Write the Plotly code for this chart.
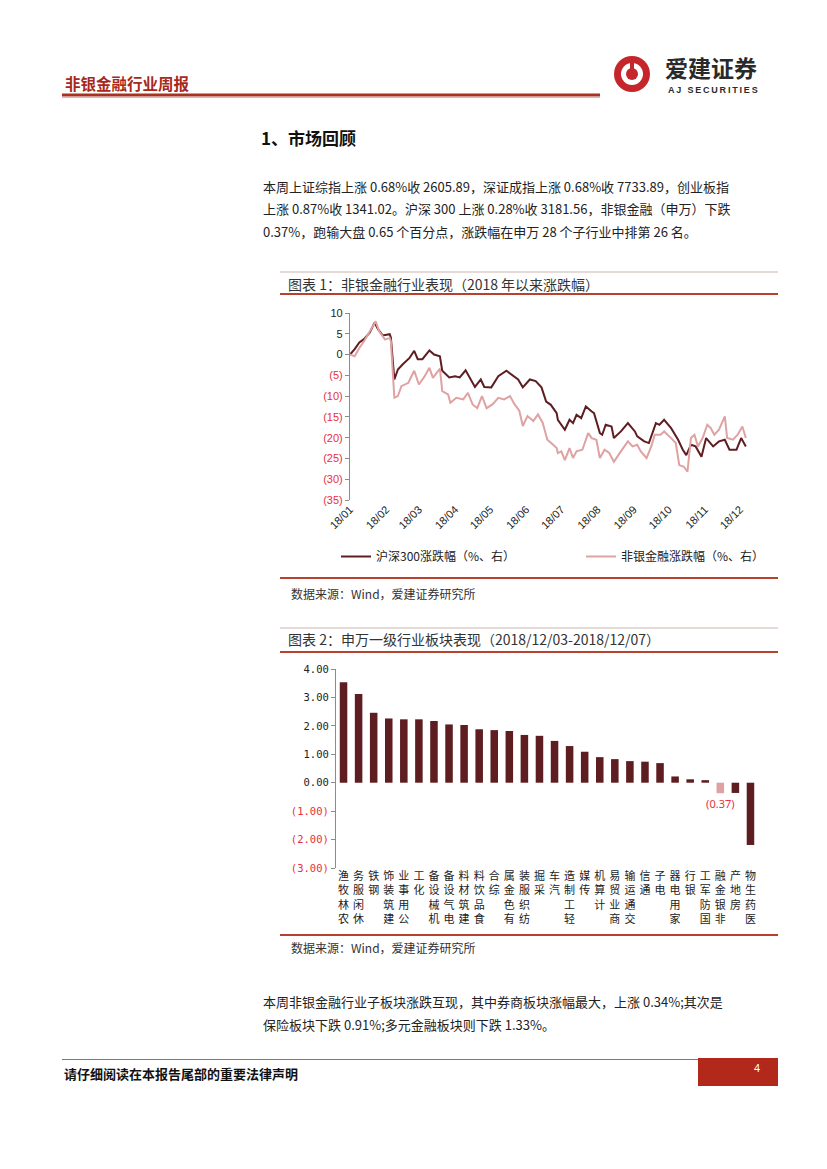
import plotly.graph_objects as go

# page offset of the browser body (8px) is compensated so the drawing lands on the 827x1169 page grid
OFF = 8
W, H = 827 - OFF, 1169 - OFF
def px(x): return (x - OFF) / W
def py(y): return 1 - (y - OFF) / H

# ---------------- Chart 1 data (cumulative % change since 2018-01-01) ----------------
hs300_dates = ["2018-01-01","2018-01-05","2018-01-09","2018-01-13","2018-01-18","2018-01-22","2018-01-25","2018-01-29",
               "2018-02-04","2018-02-05","2018-02-08","2018-02-11","2018-02-15","2018-02-21","2018-02-25","2018-02-28",
               "2018-03-04","2018-03-10","2018-03-14","2018-03-19","2018-03-21","2018-03-27","2018-04-01","2018-04-05",
               "2018-04-10","2018-04-13","2018-04-18","2018-04-23","2018-04-26","2018-05-02","2018-05-08","2018-05-15",
               "2018-05-19","2018-05-25","2018-05-29","2018-06-04","2018-06-09","2018-06-14","2018-06-18","2018-06-22",
               "2018-06-27","2018-06-28","2018-07-04","2018-07-08","2018-07-11","2018-07-14","2018-07-18","2018-07-22",
               "2018-07-27","2018-07-29","2018-08-03","2018-08-05","2018-08-08","2018-08-13","2018-08-15","2018-08-21",
               "2018-08-27","2018-09-02","2018-09-04","2018-09-10","2018-09-14","2018-09-20","2018-09-23","2018-09-27",
               "2018-10-03","2018-10-09","2018-10-13","2018-10-16","2018-10-20","2018-10-24","2018-10-29","2018-11-02",
               "2018-11-08","2018-11-13","2018-11-18","2018-11-22","2018-11-28","2018-12-02","2018-12-06"]
hs300_chg = [0.0, 1.3, 2.9, 3.7, 5.3, 7.7, 6.1, 4.6,
             4.9, 4.1, -6.0, -3.6, -2.4, -0.8, 0.9, -1.1,
             -1.1, 1.0, 0.0, -0.4, -3.9, -5.5, -5.2, -5.5,
             -3.8, -5.2, -7.8, -6.0, -7.8, -7.9, -5.2, -3.9,
             -4.7, -6.0, -7.9, -6.0, -6.4, -7.9, -11.3, -12.1,
             -14.1, -15.7, -18.1, -15.7, -16.5, -14.5, -15.3, -12.5,
             -13.7, -14.1, -18.9, -19.3, -16.9, -17.3, -20.1, -18.5,
             -16.5, -18.5, -19.7, -20.9, -21.3, -16.5, -16.9, -15.7,
             -17.7, -20.5, -22.9, -24.2, -21.7, -22.1, -24.6, -20.1,
             -22.1, -20.9, -20.5, -22.9, -22.9, -20.1, -22.1]

nonbank_dates = ["2018-01-01","2018-01-05","2018-01-09","2018-01-13","2018-01-18","2018-01-23","2018-01-26","2018-01-31",
                 "2018-02-04","2018-02-05","2018-02-08","2018-02-11","2018-02-14","2018-02-20","2018-02-25","2018-03-01",
                 "2018-03-06","2018-03-10","2018-03-13","2018-03-19","2018-03-21","2018-03-26","2018-03-28","2018-04-02",
                 "2018-04-08","2018-04-12","2018-04-16","2018-04-20","2018-04-24","2018-04-28","2018-05-03","2018-05-08",
                 "2018-05-13","2018-05-18","2018-05-22","2018-05-26","2018-05-29","2018-06-02","2018-06-07","2018-06-11",
                 "2018-06-15","2018-06-19","2018-06-24","2018-06-27","2018-06-28","2018-07-01","2018-07-04","2018-07-08",
                 "2018-07-11","2018-07-14","2018-07-19","2018-07-24","2018-07-27","2018-07-31","2018-08-03","2018-08-07",
                 "2018-08-11","2018-08-15","2018-08-21","2018-08-27","2018-08-31","2018-09-04","2018-09-07","2018-09-12",
                 "2018-09-16","2018-09-19","2018-09-24","2018-09-27","2018-10-03","2018-10-07","2018-10-10","2018-10-14",
                 "2018-10-17","2018-10-20","2018-10-23","2018-10-26","2018-10-30","2018-11-03","2018-11-06","2018-11-09",
                 "2018-11-13","2018-11-18","2018-11-20","2018-11-25","2018-11-29","2018-12-03","2018-12-06"]
nonbank_chg = [0.0, -0.4, 1.6, 3.2, 5.6, 8.0, 5.6, 3.6,
               4.0, 3.2, -10.4, -10.0, -7.6, -6.8, -3.9, -7.2,
               -5.2, -3.2, -5.6, -3.4, -8.8, -9.6, -11.6, -10.4,
               -10.8, -9.2, -12.0, -12.9, -10.0, -12.9, -12.0, -10.4,
               -10.8, -10.0, -12.0, -13.5, -17.2, -14.8, -16.0, -14.4,
               -16.4, -20.5, -21.7, -22.5, -23.7, -23.3, -25.4, -22.5,
               -24.9, -23.3, -22.9, -18.9, -20.1, -20.5, -24.9, -22.9,
               -23.7, -25.8, -23.3, -20.9, -22.1, -21.7, -23.3, -24.9,
               -22.1, -19.3, -19.3, -18.5, -20.1, -21.3, -26.6, -27.0,
               -28.2, -20.1, -19.3, -22.1, -20.1, -16.9, -17.7, -19.3,
               -18.1, -14.9, -20.1, -20.5, -19.3, -17.3, -20.1]

month_ticks = ["2018-01-01","2018-02-01","2018-03-01","2018-04-01","2018-05-01","2018-06-01",
               "2018-07-01","2018-08-01","2018-09-01","2018-10-01","2018-11-01","2018-12-01"]
month_labels = ["18/01","18/02","18/03","18/04","18/05","18/06","18/07","18/08","18/09","18/10","18/11","18/12"]

y1_ticks = [10, 5, 0, -5, -10, -15, -20, -25, -30, -35]
y1_labels = ["10", "5", "0", "(5)", "(10)", "(15)", "(20)", "(25)", "(30)", "(35)"]

# ---------------- Chart 2 data (weekly % change, 2018/12/03-2018/12/07) ----------------
industries = ["农林牧渔","休闲服务","钢铁","建筑装饰","公用事业","化工","机械设备","电气设备","建筑材料","食品饮料",
              "综合","有色金属","纺织服装","采掘","汽车","轻工制造","传媒","计算机","商业贸易","交通运输",
              "通信","电子","家用电器","银行","国防军工","非银金融","房地产","医药生物"]
industry_chg = [3.53, 3.12, 2.46, 2.26, 2.23, 2.23, 2.17, 2.05, 2.03, 1.88,
                1.85, 1.82, 1.68, 1.65, 1.47, 1.29, 1.09, 0.90, 0.83, 0.76,
                0.74, 0.69, 0.22, 0.12, 0.09, -0.37, -0.36, -2.19]
highlight = "非银金融"

y2_ticks = [4, 3, 2, 1, 0, -1, -2, -3]
y2_labels = ["4.00", "3.00", "2.00", "1.00", "0.00", "(1.00)", "(2.00)", "(3.00)"]

# ---------------- styles ----------------
DARK = "#5E1E21"
LIGHT = "#DFA2A2"
NEG = "#E8303A"
AXIS = "#8C8C8C"
CJK = "Noto Sans CJK SC"
RULE = "#B8402E"

def lab(v, t):
    return t if v >= 0 else f'<span style="color:{NEG}">{t}</span>'

fig = go.Figure()

fig.add_trace(go.Scatter(x=hs300_dates, y=hs300_chg, mode="lines", name="沪深300涨跌幅（%、右）",
                         line=dict(color=DARK, width=2), xaxis="x", yaxis="y"))
fig.add_trace(go.Scatter(x=nonbank_dates, y=nonbank_chg, mode="lines", name="非银金融涨跌幅（%、右）",
                         line=dict(color=LIGHT, width=2), xaxis="x", yaxis="y"))

bar_colors = [LIGHT if n == highlight else DARK for n in industries]
bar_text = [f"({abs(v):.2f})" if n == highlight else "" for n, v in zip(industries, industry_chg)]
fig.add_trace(go.Bar(x=industries, y=industry_chg, marker=dict(color=bar_colors, line=dict(width=0)),
                     text=bar_text, textposition="outside", cliponaxis=False, constraintext="none",
                     textfont=dict(color=NEG, size=11, family="Noto Sans"),
                     showlegend=False, xaxis="x2", yaxis="y2", width=0.5))

stacked = ["<br>".join(reversed(list(n))) for n in industries]
boundaries = [i + 0.5 for i in range(len(industries) - 1)]

fig.update_layout(
    width=W, height=H, margin=dict(l=0, r=0, t=0, b=0, autoexpand=False),
    paper_bgcolor="white", plot_bgcolor="rgba(0,0,0,0)",
    font=dict(family=CJK, color="#222"),
    showlegend=True,
    legend=dict(orientation="h", x=px(336), y=py(542), xanchor="left", yanchor="top",
                font=dict(size=12, family=CJK, color="#222"), entrywidth=200, entrywidthmode="pixels",
                bgcolor="rgba(0,0,0,0)", itemwidth=30),
    xaxis=dict(domain=[px(350), px(747)], anchor="y", type="date",
               range=["2018-01-01", "2018-12-07"], tickvals=month_ticks, ticktext=month_labels,
               tickangle=-45, showline=False, showgrid=False, zeroline=False, ticks="",
               tickfont=dict(family="Liberation Sans", size=11, color="#222")),
    xaxis3=dict(overlaying="x", anchor="free", position=py(355), type="date",
                range=["2018-01-01", "2018-12-07"], tickvals=month_ticks, showticklabels=False,
                ticks="outside", ticklen=4, tickcolor=AXIS, showline=True, linecolor=AXIS, linewidth=1.2,
                showgrid=False, zeroline=False),
    yaxis=dict(domain=[py(500), py(313)], anchor="x", range=[-35, 10],
               tickvals=y1_ticks, ticktext=[lab(v, t) for v, t in zip(y1_ticks, y1_labels)],
               showline=True, linecolor=AXIS, linewidth=1.2, ticks="outside", ticklen=4, tickcolor=AXIS,
               showgrid=False, zeroline=False, tickfont=dict(family="Liberation Sans", size=11, color="#222")),
    xaxis2=dict(domain=[px(336), px(758)], anchor="y2", type="category",
                tickvals=industries, ticktext=stacked, tickangle=0, showline=False, showgrid=False,
                ticks="", tickfont=dict(family=CJK, size=11, color="#222")),
    xaxis4=dict(overlaying="x2", anchor="free", position=py(782.7), range=[-0.5, len(industries) - 0.5],
                tickvals=boundaries, showticklabels=False, ticks="outside", ticklen=4, tickcolor=AXIS,
                showline=True, linecolor=AXIS, linewidth=1.2, showgrid=False, zeroline=False),
    yaxis2=dict(domain=[py(868), py(669)], anchor="x2", range=[-3, 4],
                tickvals=y2_ticks, ticktext=[lab(v, t) for v, t in zip(y2_ticks, y2_labels)],
                showline=True, linecolor=AXIS, linewidth=1.2, ticks="outside", ticklen=4, tickcolor=AXIS,
                showgrid=False, zeroline=False, tickfont=dict(family="DejaVu Sans Mono", size=10.5, color="#222")),
    bargap=0.5,
)

shapes = []
def hline(x0, x1, y, color, w):
    shapes.append(dict(type="line", xref="paper", yref="paper", x0=px(x0), x1=px(x1), y0=py(y), y1=py(y),
                       line=dict(color=color, width=w)))
def rect(x0, y0, x1, y1, color):
    shapes.append(dict(type="rect", xref="paper", yref="paper", x0=px(x0), x1=px(x1), y0=py(y1), y1=py(y0),
                       fillcolor=color, line=dict(width=0)))

# header
rect(62, 93.5, 600, 96.5, "#A83220")
hline(62, 600, 97.5, "#F2B58C", 1)
# logo
shapes.append(dict(type="circle", xref="paper", yref="paper", x0=px(614), x1=px(650), y0=py(92), y1=py(56),
                   fillcolor="#C4262B", line=dict(width=0)))
shapes.append(dict(type="circle", xref="paper", yref="paper", x0=px(621), x1=px(643), y0=py(85), y1=py(63),
                   fillcolor="white", line=dict(width=0)))
shapes.append(dict(type="circle", xref="paper", yref="paper", x0=px(626), x1=px(638), y0=py(80), y1=py(68),
                   fillcolor="#C4262B", line=dict(width=0)))
rect(630, 60, 634, 73, "#C4262B")
# chart 1 frame
hline(280, 778, 272, "#CDB5AE", 1)
hline(280, 778, 294, RULE, 2)
hline(280, 778, 578, RULE, 2)
# chart 2 frame
hline(280, 778, 628, "#CDB5AE", 1)
hline(280, 778, 652, RULE, 2)
hline(280, 778, 935, RULE, 2)
# footer
hline(62, 700, 1059.5, "#E0504A", 1.2)
rect(698, 1058, 778, 1086, "#B2291C")
fig.update_layout(shapes=shapes)

ann = []
def text(x, y, s, size=13, color="#222", family=CJK, xanchor="left"):
    ann.append(dict(xref="paper", yref="paper", x=px(x), y=py(y), text=s, showarrow=False,
                    xanchor=xanchor, yanchor="middle", font=dict(size=size, color=color, family=family)))

TS = "\u2009"
text(63, 83, "<b>非银金融行业周报</b>", size=15.5, color="#A8281C")
text(663, 67, "<b>爱建证券</b>", size=23, color="#2A2A2A")
text(666, 90, "<b>" + TS.join("AJ SECURITIES") + "</b>", size=9, color="#2A2A2A", family="Liberation Sans")

text(259, 137, "<b>1、市场回顾</b>", size=17, color="#111")
text(261, 186, "本周上证综指上涨 0.68%收 2605.89，深证成指上涨 0.68%收 7733.89，创业板指", size=13)
text(261, 209, "上涨 0.87%收 1341.02。沪深 300 上涨 0.28%收 3181.56，非银金融（申万）下跌", size=13)
text(261, 232, "0.37%，跑输大盘 0.65 个百分点，涨跌幅在申万 28 个子行业中排第 26 名。", size=13)

text(286, 284, "图表 1：非银金融行业表现（2018 年以来涨跌幅）", size=14, color="#333")
text(289, 593, "数据来源：Wind，爱建证券研究所", size=12, color="#333")
text(286, 639, "图表 2：申万一级行业板块表现（2018/12/03-2018/12/07）", size=14, color="#333")
text(289, 947, "数据来源：Wind，爱建证券研究所", size=12, color="#333")

text(261, 1001, "本周非银金融行业子板块涨跌互现，其中券商板块涨幅最大，上涨 0.34%;其次是", size=13)
text(261, 1024, "保险板块下跌 0.91%;多元金融板块则下跌 1.33%。", size=13)

text(62, 1073, "<b>请仔细阅读在本报告尾部的重要法律声明</b>", size=13, color="#111")
text(752, 1068, "4", size=11, color="white", family="Liberation Sans")
fig.update_layout(annotations=ann)

fig.write_html("out.html")
